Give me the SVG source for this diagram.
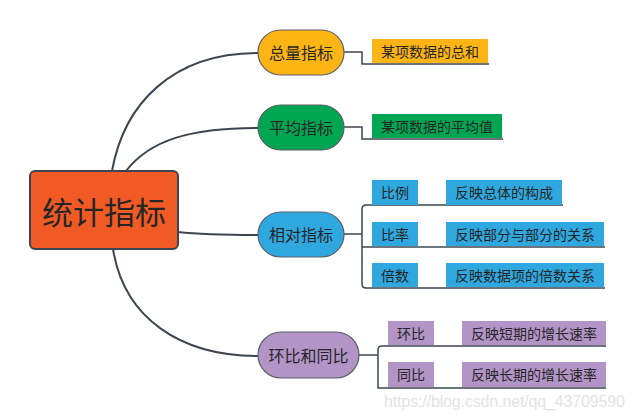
<svg xmlns="http://www.w3.org/2000/svg" width="636" height="420" viewBox="0 0 636 420">
<style>
text{font-family:"Noto Sans CJK SC","Liberation Sans",sans-serif;fill:#262626;dominant-baseline:central;text-anchor:middle}
.c{fill:none;stroke:#3d4650;stroke-width:2;stroke-linecap:round}
.l{fill:none;stroke:#3d4650;stroke-width:1.5}
.pill{stroke:#5a5f66;stroke-width:1.2}
.b{font-size:16px}
.s{font-size:14px}
.y{fill:#FDB515}.g{fill:#00A651}.bl{fill:#2FA8E0}.p{fill:#B394C6}
</style>
<rect width="636" height="420" fill="#fff"/>
<g id="connectors">
<path class="c" d="M112,171 C124,104 172,53 258,53"/>
<path class="c" d="M126,171 C150,140 190,128 258,128"/>
<path class="c" d="M178,232 C205,235 230,235 258,235"/>
<path class="c" d="M113,249 C124,318 180,356 258,356"/>
<path class="l" d="M344,52 H362 V64 H489"/>
<path class="l" d="M344,127 H362 V139 H503"/>
<path class="l" d="M344,234 H362"/>
<path class="l" d="M563,205 H366 Q362,205 362,209 V284 Q362,288 366,288 H605"/>
<path class="l" d="M362,247 H605"/>
<path class="l" d="M359,355 H378"/>
<path class="l" d="M606,346 H382 Q378,346 378,350 V388 H606"/>
</g>
<g id="root">
<rect x="30" y="171" width="148" height="78" rx="5" fill="#F15A24" stroke="#3d4650" stroke-width="2"/>
<text x="104" y="210" style="font-size:31px">统计指标</text>
</g>
<g id="n1">
<rect class="pill y" x="258" y="30" width="86" height="45" rx="22.5"/>
<text class="b" x="301" y="52">总量指标</text>
</g>
<g id="n1a">
<rect class="y" x="372" y="39" width="116" height="24"/>
<text class="s" x="430" y="51">某项数据的总和</text>
</g>
<g id="n2">
<rect class="pill g" x="258" y="105" width="86" height="45" rx="22.5"/>
<text class="b" x="301" y="127">平均指标</text>
</g>
<g id="n2a">
<rect class="g" x="372" y="114" width="130" height="24"/>
<text class="s" x="437" y="126">某项数据的平均值</text>
</g>
<g id="n3">
<rect class="pill bl" x="258" y="212" width="86" height="45" rx="22.5"/>
<text class="b" x="301" y="234">相对指标</text>
</g>
<g id="n3a">
<rect class="bl" x="372" y="180" width="46" height="25"/>
<text class="s" x="395" y="192">比例</text>
</g>
<g id="n3a1">
<rect class="bl" x="446" y="180" width="116" height="25"/>
<text class="s" x="504" y="192">反映总体的构成</text>
</g>
<g id="n3b">
<rect class="bl" x="372" y="222" width="46" height="24"/>
<text class="s" x="395" y="234">比率</text>
</g>
<g id="n3b1">
<rect class="bl" x="446" y="222" width="158" height="24"/>
<text class="s" x="525" y="234">反映部分与部分的关系</text>
</g>
<g id="n3c">
<rect class="bl" x="372" y="263" width="46" height="24"/>
<text class="s" x="395" y="275">倍数</text>
</g>
<g id="n3c1">
<rect class="bl" x="446" y="263" width="158" height="24"/>
<text class="s" x="525" y="275">反映数据项的倍数关系</text>
</g>
<g id="n4">
<rect class="pill p" x="258" y="332" width="101" height="46" rx="23"/>
<text class="b" x="308.5" y="355">环比和同比</text>
</g>
<g id="n4a">
<rect class="p" x="388" y="321" width="46" height="24"/>
<text class="s" x="411" y="333">环比</text>
</g>
<g id="n4a1">
<rect class="p" x="462" y="321" width="144" height="24"/>
<text class="s" x="534" y="333">反映短期的增长速率</text>
</g>
<g id="n4b">
<rect class="p" x="388" y="362" width="46" height="25"/>
<text class="s" x="411" y="374">同比</text>
</g>
<g id="n4b1">
<rect class="p" x="462" y="362" width="144" height="25"/>
<text class="s" x="534" y="374">反映长期的增长速率</text>
</g>
<text x="384" y="407" style="font-family:'Liberation Sans',sans-serif;font-size:16px;fill:#e3e3e3;text-anchor:start;dominant-baseline:alphabetic" textLength="241">https://blog.csdn.net/qq_43709590</text>
</svg>
